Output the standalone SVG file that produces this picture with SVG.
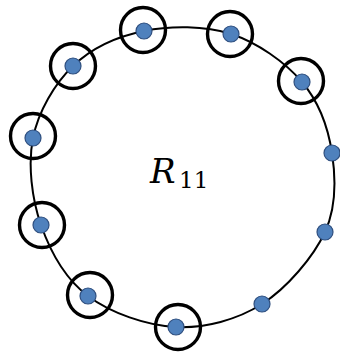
<svg xmlns="http://www.w3.org/2000/svg" width="340" height="355" viewBox="0 0 340 355">
<style>
.curve{fill:none;stroke:#000;stroke-width:2}
.ring{fill:none;stroke:#000;stroke-width:3.4}
.dot{fill:#4F81BD;stroke:#2F4F7F;stroke-width:1.2}
.lbl{font-family:"DejaVu Serif","Liberation Serif",serif;fill:#000}
</style>
<rect width="340" height="355" fill="#fff"/>
<g id="connectors">
<path class="curve" d="M144,31 C170.3,25.7 204.7,25.5 231,34 C257.3,42.5 285.2,62.2 302,82 C318.8,101.8 328.2,128 332,153 C335.8,178 336.7,206.8 325,232 C313.3,257.2 286.8,288.2 262,304 C237.2,319.8 205,328.3 176,327 C147,325.7 110.5,313 88,296 C65.5,279 50.2,251.3 41,225 C31.8,198.7 27.7,164.5 33,138 C38.3,111.5 54.5,83.8 73,66 C91.5,48.2 117.7,36.3 144,31 Z"/>
</g>
<g id="n0"><circle class="ring" cx="143" cy="30" r="22.5"/><circle class="dot" cx="144" cy="31" r="8"/></g>
<g id="n1"><circle class="ring" cx="230" cy="34" r="22.5"/><circle class="dot" cx="231" cy="34" r="8"/></g>
<g id="n2"><circle class="ring" cx="301" cy="81" r="22.5"/><circle class="dot" cx="302" cy="82" r="8"/></g>
<g id="n3"><circle class="dot" cx="332" cy="153" r="8"/></g>
<g id="n4"><circle class="dot" cx="325" cy="232" r="8"/></g>
<g id="n5"><circle class="dot" cx="262" cy="304" r="8"/></g>
<g id="n6"><circle class="ring" cx="178" cy="327" r="22.5"/><circle class="dot" cx="176" cy="327" r="8"/></g>
<g id="n7"><circle class="ring" cx="90" cy="295" r="22.5"/><circle class="dot" cx="88" cy="296" r="8"/></g>
<g id="n8"><circle class="ring" cx="42" cy="225" r="22.5"/><circle class="dot" cx="41" cy="225" r="8"/></g>
<g id="n9"><circle class="ring" cx="33" cy="136" r="22.5"/><circle class="dot" cx="33" cy="138" r="8"/></g>
<g id="n10"><circle class="ring" cx="73" cy="66" r="22.5"/><circle class="dot" cx="73" cy="66" r="8"/></g>
<g id="label">
<text class="lbl" x="150" y="183" font-size="34" font-style="italic">R</text>
<text class="lbl" x="179" y="188" font-size="23">11</text>
</g>
</svg>
